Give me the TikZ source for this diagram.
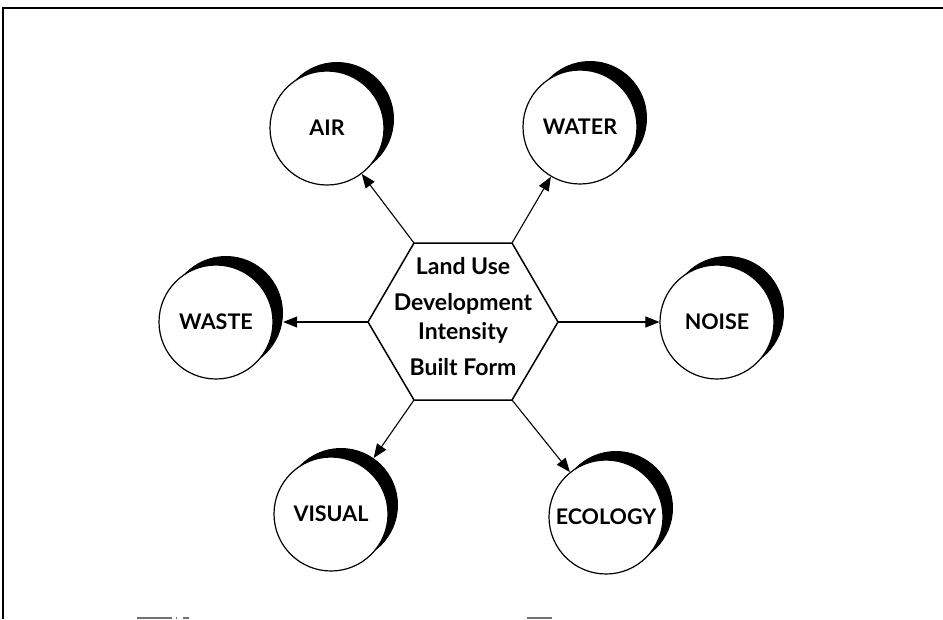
\documentclass[tikz,border=0pt]{standalone}
\usepackage{fontspec}
\setmainfont{Lato}
\usetikzlibrary{arrows.meta}

\tikzset{
  topic/.style={circle, draw=black, line width=1.2pt, fill=white,
    minimum size=114pt, inner sep=0pt, font=\bfseries\fontsize{21.5}{24}\selectfont},
  shade/.style={circle, fill=black, minimum size=114pt, inner sep=0pt},
  hexline/.style={anchor=base, inner sep=0pt, font=\bfseries\fontsize{23}{26}\selectfont},
  link/.style={line width=1.1pt, -{Triangle[length=14pt,width=11pt]}},
  edge/.style={line width=1.5pt, line join=round},
  rule/.style={line width=1.8pt},
  scrap/.style={fill=black!55, draw=none}
}

\begin{document}
\begin{tikzpicture}[x=1pt, y=-1pt]
  \useasboundingbox (0,0) rectangle (943,619);

  % page frame (top and left rules)
  \coordinate (frame-tl) at (3,8);
  \coordinate (frame-tr) at (943,8);
  \coordinate (frame-bl) at (3,619);
  \draw[rule] (frame-tr) -- (frame-tl) -- (frame-bl);

  % cut-off caption marks at the bottom edge
  \fill[scrap] (137,617) rectangle (172,619);
  \fill[scrap] (176,617) rectangle (177,619);
  \fill[scrap] (183,617) rectangle (189,619);
  \fill[scrap] (527,617) rectangle (552,619);

  % central hexagon
  \coordinate (hex-tl) at (414,243);
  \coordinate (hex-tr) at (512,243);
  \coordinate (hex-r)  at (558,322);
  \coordinate (hex-br) at (512,400);
  \coordinate (hex-bl) at (414,400);
  \coordinate (hex-l)  at (368,322);
  \draw[edge] (hex-tl) -- (hex-tr) -- (hex-r) -- (hex-br) -- (hex-bl) -- (hex-l) -- cycle;

  \node[hexline] (hex-1) at (463,274) {Land Use};
  \node[hexline] (hex-2) at (463,310) {Development};
  \node[hexline] (hex-3) at (463,339) {Intensity};
  \node[hexline] (hex-4) at (463,375) {Built Form};

  % impact circles: a black disc offset up-right gives the crescent shadow
  \foreach \name/\px/\py/\label in {
      air/327/128/AIR,
      water/580/127/WATER,
      waste/216/322/WASTE,
      noise/717/322/NOISE,
      visual/331/514/VISUAL,
      ecology/606/517/ECOLOGY} {
    \node[shade] (\name-sh) at (\px+10,\py-9) {};
    \node[topic] (\name) at (\px,\py) {\label};
  }

  % arrows from the hexagon to each circle
  \draw[link] (hex-tl) -- (air);
  \draw[link] (hex-tr) -- (water);
  \draw[link] (hex-l)  -- (waste-sh.east |- hex-l);
  \draw[link] (hex-r)  -- (noise);
  \draw[link] (hex-bl) -- (visual-sh);
  \draw[link] (hex-br) -- (ecology);
\end{tikzpicture}
\end{document}
